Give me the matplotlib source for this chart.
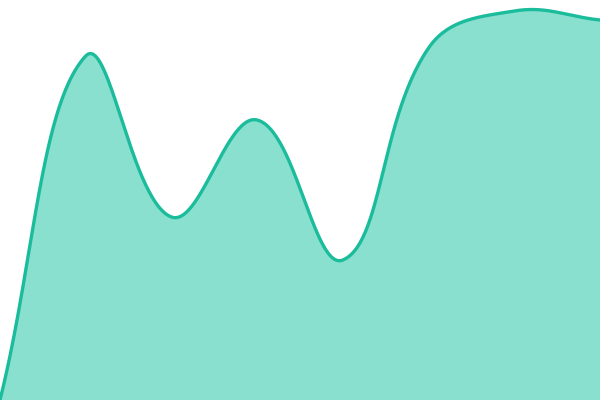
import numpy as np
import matplotlib.pyplot as plt

# one series, 8 evenly spaced points
labels = ["a", "b", "c", "d", "e", "f", "g", "h"]
values = [0, 344, 183, 280, 140, 352, 389, 380]

W, H = 600, 400
tension = 0.4


def spline_path(xs, ys, n=60):
    # bezier spline the way chart.js builds it (tension + capped control points)
    pts = list(zip(xs, ys))
    cps = []
    for i, cur in enumerate(pts):
        prev = pts[i - 1] if i > 0 else cur
        nxt = pts[i + 1] if i < len(pts) - 1 else cur
        d01 = np.hypot(cur[0] - prev[0], cur[1] - prev[1])
        d12 = np.hypot(nxt[0] - cur[0], nxt[1] - cur[1])
        tot = d01 + d12
        s01 = d01 / tot if tot else 0
        s12 = d12 / tot if tot else 0
        fa, fb = tension * s01, tension * s12
        cp_prev = [cur[0] - fa * (nxt[0] - prev[0]), cur[1] - fa * (nxt[1] - prev[1])]
        cp_next = [cur[0] + fb * (nxt[0] - prev[0]), cur[1] + fb * (nxt[1] - prev[1])]
        for cp in (cp_prev, cp_next):
            cp[0] = min(max(cp[0], 0), W)
            cp[1] = min(max(cp[1], 0), H)
        cps.append((cp_prev, cp_next))
    t = np.linspace(0, 1, n)[:, None]
    segs = []
    for i in range(len(pts) - 1):
        p0 = np.array(pts[i])
        p1 = np.array(cps[i][1])
        p2 = np.array(cps[i + 1][0])
        p3 = np.array(pts[i + 1])
        b = ((1 - t)**3) * p0 + 3 * ((1 - t)**2) * t * p1 + 3 * (1 - t) * t**2 * p2 + t**3 * p3
        segs.append(b)
    path = np.vstack(segs)
    return path[:, 0], path[:, 1]


px = np.arange(len(values)) * W / (len(values) - 1)
sx, sy = spline_path(px, np.array(values, dtype=float))

fig = plt.figure(figsize=(6, 4), dpi=100)
ax = fig.add_axes([0, 0, 1, 1])
ax.fill_between(sx, sy, 0, color="#8ae0cf", linewidth=0)
ax.plot(sx, sy, color="#1abc9c", linewidth=2.4, solid_capstyle="round")
ax.set_xlim(0, W)
ax.set_ylim(0, H)
ax.axis("off")

fig.savefig("out.png", dpi=100)
